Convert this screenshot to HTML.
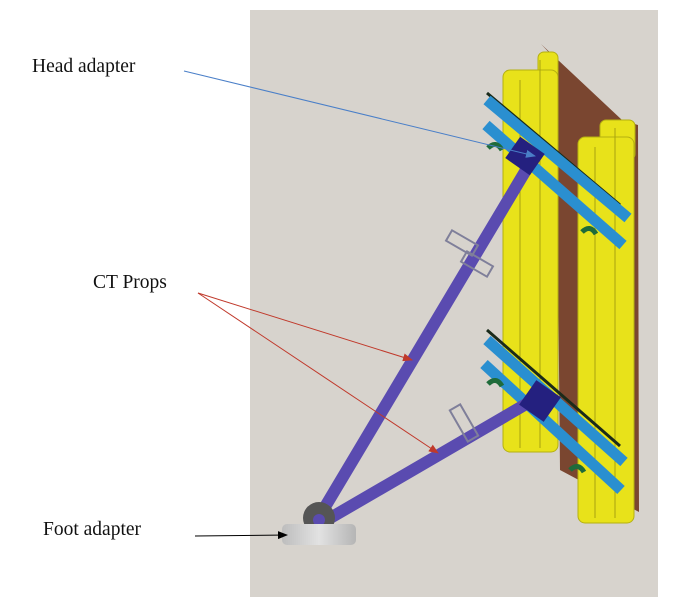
<!DOCTYPE html>
<html><head><meta charset="utf-8"><style>
html,body{margin:0;padding:0;background:#fff;}
svg{display:block;}
text{font-family:"Liberation Serif",serif;font-size:19.5px;fill:#111;}
</style></head><body>
<svg width="679" height="611" viewBox="0 0 679 611" xmlns="http://www.w3.org/2000/svg">
<defs>
<marker id="ab" markerWidth="10" markerHeight="8" refX="9" refY="4" orient="auto" markerUnits="userSpaceOnUse"><path d="M0,0 L10,4 L0,8 z" fill="#4a7fc8"/></marker>
<marker id="ar" markerWidth="10" markerHeight="8" refX="9" refY="4" orient="auto" markerUnits="userSpaceOnUse"><path d="M0,0 L10,4 L0,8 z" fill="#c0392b"/></marker>
<marker id="ak" markerWidth="10" markerHeight="8" refX="9" refY="4" orient="auto" markerUnits="userSpaceOnUse"><path d="M0,0 L10,4 L0,8 z" fill="#000"/></marker>
<linearGradient id="gf" x1="0" y1="0" x2="1" y2="0"><stop offset="0" stop-color="#bdbdbd"/><stop offset="0.5" stop-color="#e2e2e2"/><stop offset="1" stop-color="#b5b5b5"/></linearGradient>
</defs>
<rect x="250" y="10" width="408" height="587" fill="#d7d3cd"/>
<!-- brown panel -->
<polygon points="541,44 622,120 638,125 639,512 560,470 556,60" fill="#7a4630"/>
<!-- yellow left -->
<rect x="538" y="52" width="20" height="40" rx="6" fill="#e8e21a" stroke="#b5b010" stroke-width="1"/>
<rect x="503" y="70" width="55" height="382" rx="7" fill="#e8e21a" stroke="#b5b010" stroke-width="1"/>
<line x1="520" y1="80" x2="520" y2="448" stroke="#a8a310" stroke-width="1"/>
<line x1="540" y1="60" x2="540" y2="448" stroke="#a8a310" stroke-width="1"/>
<!-- yellow right -->
<rect x="600" y="120" width="35" height="40" rx="6" fill="#e8e21a" stroke="#b5b010" stroke-width="1"/>
<rect x="578" y="137" width="56" height="386" rx="7" fill="#e8e21a" stroke="#b5b010" stroke-width="1"/>
<line x1="595" y1="147" x2="595" y2="518" stroke="#a8a310" stroke-width="1"/>
<line x1="615" y1="128" x2="615" y2="518" stroke="#a8a310" stroke-width="1"/>
<!-- rails top -->
<line x1="487" y1="93" x2="620" y2="205" stroke="#1a2a1a" stroke-width="3"/>
<line x1="487" y1="100" x2="628" y2="218" stroke="#2a8fd0" stroke-width="11"/>
<line x1="486" y1="125" x2="623" y2="245" stroke="#2a8fd0" stroke-width="11"/>
<path d="M488,148 q8,-8 14,2" stroke="#1f6b3a" stroke-width="5" fill="none"/>
<path d="M582,232 q8,-8 14,2" stroke="#1f6b3a" stroke-width="5" fill="none"/>
<!-- rails bottom -->
<line x1="487" y1="330" x2="620" y2="446" stroke="#1a2a1a" stroke-width="3"/>
<line x1="487" y1="340" x2="624" y2="462" stroke="#2a8fd0" stroke-width="11"/>
<line x1="484" y1="364" x2="621" y2="490" stroke="#2a8fd0" stroke-width="11"/>
<path d="M488,384 q8,-8 14,2" stroke="#1f6b3a" stroke-width="5" fill="none"/>
<path d="M570,470 q8,-8 14,2" stroke="#1f6b3a" stroke-width="5" fill="none"/>
<!-- props -->
<line x1="316" y1="522" x2="532" y2="160" stroke="#5a4bb0" stroke-width="12" stroke-linecap="round"/>
<line x1="320" y1="524" x2="540" y2="396" stroke="#5a4bb0" stroke-width="12" stroke-linecap="round"/>
<!-- pins -->
<rect x="447" y="237" width="30" height="12" fill="none" stroke="#7f7f9a" stroke-width="2" transform="rotate(30 462 243)"/>
<rect x="462" y="258" width="30" height="12" fill="none" stroke="#7f7f9a" stroke-width="2" transform="rotate(30 477 264)"/>
<rect x="458" y="405" width="12" height="36" fill="none" stroke="#7f7f9a" stroke-width="2" transform="rotate(-30 464 423)"/>
<!-- head blocks -->
<rect x="510" y="143" width="30" height="26" fill="#24207f" transform="rotate(35 525 156)"/>
<rect x="525" y="386" width="30" height="30" fill="#24207f" transform="rotate(35 540 401)"/>
<!-- foot -->
<circle cx="319" cy="518" r="16" fill="#555"/>
<circle cx="319" cy="520" r="6" fill="#5a4bb0"/>
<rect x="282" y="524" width="74" height="21" rx="5" fill="url(#gf)"/>
<!-- labels -->
<text x="32" y="72">Head adapter</text>
<text x="93" y="288">CT Props</text>
<text x="43" y="535">Foot adapter</text>
<line x1="184" y1="71" x2="535" y2="156" stroke="#4a7fc8" stroke-width="1" marker-end="url(#ab)"/>
<line x1="198" y1="293" x2="412" y2="360" stroke="#c0392b" stroke-width="1" marker-end="url(#ar)"/>
<line x1="198" y1="293" x2="438" y2="453" stroke="#c0392b" stroke-width="1" marker-end="url(#ar)"/>
<line x1="195" y1="536" x2="287" y2="535" stroke="#000" stroke-width="1" marker-end="url(#ak)"/>
</svg>
</body></html>
